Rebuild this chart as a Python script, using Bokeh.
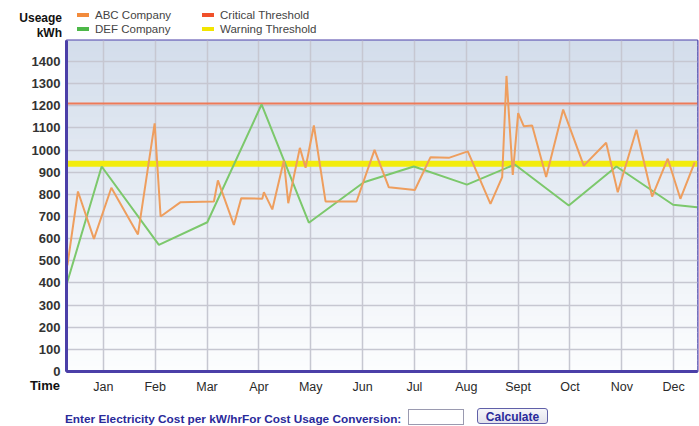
from bokeh.plotting import figure
from bokeh.models import (Range1d, FixedTicker, Span, BoxAnnotation, Div)
from bokeh.layouts import column
from bokeh.embed import file_html
from bokeh.resources import INLINE

# ---------------- data ----------------
months = ["Jan", "Feb", "Mar", "Apr", "May", "Jun", "Jul", "Aug", "Sept", "Oct", "Nov", "Dec"]
month_ticks = [1, 2, 3, 4, 5, 6, 7, 8, 9, 10, 11, 12]
y_ticks = [0, 100, 200, 300, 400, 500, 600, 700, 800, 900, 1000, 1100, 1200, 1300, 1400]

# x in month units (Jan = 1)
abc_x = [0.307, 0.511, 0.819, 1.155, 1.668, 1.990, 2.105, 2.491, 3.133, 3.210, 3.518, 3.661,
         4.066, 4.097, 4.259, 4.482, 4.567, 4.791, 4.901, 5.061, 5.286, 5.884, 6.231, 6.507,
         7.008, 7.311, 7.663, 8.030, 8.467, 8.693, 8.776, 8.897, 9.001, 9.109, 9.271, 9.541,
         9.869, 10.266, 10.698, 10.922, 11.282, 11.585, 11.886, 12.130, 12.406]
abc_y = [479, 813, 599, 830, 619, 1121, 700, 765, 768, 863, 662, 783,
         780, 810, 732, 953, 760, 1010, 920, 1111, 768, 768, 1001, 832,
         820, 968, 965, 994, 757, 878, 1335, 888, 1167, 1108, 1111, 878,
         1183, 930, 1033, 810, 1092, 790, 961, 780, 945]

def_x = [0.307, 0.968, 2.072, 3.006, 4.052, 4.964, 6.025, 6.989, 8.014, 8.936, 9.977, 10.896, 11.989, 12.452]
def_y = [405, 926, 572, 674, 1206, 672, 855, 926, 844, 935, 750, 926, 753, 742]

critical_threshold = 1210
warning_threshold = 938

series_names = ["ABC Company", "DEF Company", "Critical Threshold", "Warning Threshold"]
legend_colors = ["#F28B3C", "#4DB848", "#F0502A", "#F2E500"]

# ---------------- styles ----------------
PURPLE = "#4B3FA8"
FONT = "Liberation Sans"
Y_MAX = 1495
W, H = 699, 426

p = figure(width=W, height=H, output_backend="svg", toolbar_location=None,
           title=None, x_range=Range1d(0.29, 12.46), y_range=Range1d(0, Y_MAX),
           min_border_left=66, min_border_right=2, min_border_top=40, min_border_bottom=55)

p.background_fill_color = "#FBFCFD"
p.border_fill_color = "white"
p.outline_line_color = PURPLE
p.outline_line_width = 2

# gradient background of the frame
N = 60
bot_c = (252, 253, 254)
top_c = (211, 221, 235)
for i in range(N):
    f = (i + 0.5) / N
    c = tuple(int(round(bot_c[k] + (top_c[k] - bot_c[k]) * f)) for k in range(3))
    p.add_layout(BoxAnnotation(bottom=Y_MAX * i / N, top=Y_MAX * (i + 1) / N + 3,
                               fill_color="#%02x%02x%02x" % c, fill_alpha=1.0,
                               line_color=None, level="image"))

# axes
p.xaxis.ticker = FixedTicker(ticks=month_ticks)
p.xaxis.major_label_overrides = {t: m for t, m in zip(month_ticks, months)}
p.yaxis.ticker = FixedTicker(ticks=y_ticks)
for ax in (p.xaxis[0], p.yaxis[0]):
    ax.axis_line_color = PURPLE
    ax.axis_line_width = 3
    ax.major_tick_line_color = None
    ax.minor_tick_line_color = None
    ax.major_tick_out = 0
    ax.major_tick_in = 0
    ax.major_label_text_font = FONT
p.yaxis.major_label_text_font_size = "13px"
p.yaxis.major_label_text_font_style = "bold"
p.yaxis.major_label_text_color = "#333333"
p.yaxis.major_label_standoff = 6
p.xaxis.major_label_text_font_size = "12.5px"
p.xaxis.major_label_text_color = "#2a2a2a"
p.xaxis.major_label_standoff = 8

p.xgrid.ticker = FixedTicker(ticks=month_ticks)
p.ygrid.ticker = FixedTicker(ticks=y_ticks)
for g in (p.xgrid[0], p.ygrid[0]):
    g.grid_line_color = "#C6C7D1"
    g.grid_line_width = 1.5

# thresholds
p.add_layout(Span(location=critical_threshold, dimension="width", line_color="#EE7A58",
                  line_width=2, level="underlay"))
p.add_layout(Span(location=warning_threshold, dimension="width", line_color="#F2EC0C",
                  line_width=6, level="underlay"))

# series
p.line(def_x, def_y, line_color="#7CC86C", line_width=2)
p.line(abc_x, abc_y, line_color="#EE9E5E", line_width=2)

# ---------------- surrounding page text and legend (HTML overlay) ----------------
BLUE = "#2A2A9A"
leg_pos = [(77, 15), (77, 29), (202, 15), (202, 29)]
leg_html = ""
for name, col, (lx, ly) in zip(series_names, legend_colors, leg_pos):
    leg_html += (f'<div style="position:absolute;left:{lx}px;top:{ly-2}px;width:12px;height:4px;background:{col};"></div>'
                 f'<div style="position:absolute;left:{lx+18}px;top:{ly-7}px;font-size:11.5px;line-height:14px;color:#444;white-space:nowrap;">{name}</div>')

html = f"""
<div style="position:relative;width:{W}px;height:{H}px;font-family:'Liberation Sans',Arial,sans-serif;">
  <div style="position:absolute;right:{W-62}px;top:11px;font-size:12px;font-weight:bold;line-height:14px;color:#111;text-align:right;">Useage</div>
  <div style="position:absolute;right:{W-62}px;top:26px;font-size:12px;font-weight:bold;line-height:14px;color:#111;text-align:right;">kWh</div>
  {leg_html}
  <div style="position:absolute;right:{W-60}px;top:378px;font-size:13px;font-weight:bold;line-height:16px;color:#111;text-align:right;">Time</div>
  <div style="position:absolute;left:65px;top:413px;font-size:11.8px;font-weight:bold;line-height:12px;color:{BLUE};white-space:nowrap;">Enter Electricity Cost per kW/hrFor Cost Usage Conversion:</div>
  <div style="position:absolute;left:408px;top:409px;width:56px;height:16px;background:#fff;border:1px solid #9A9AB0;"></div>
  <div style="position:absolute;left:477px;top:408px;width:71px;height:16px;border:1.5px solid #6060A8;border-radius:3px;background:linear-gradient(#F6F6FA,#E2E2EC);color:{BLUE};font-size:12px;font-weight:bold;line-height:16px;text-align:center;">Calculate</div>
</div>
"""
overlay = Div(text=html, width=W, height=H, margin=(-H, 0, 0, 0),
              styles={"pointer-events": "none"})

layout = column(p, overlay, spacing=0)

open("out.html", "w").write(file_html(layout, INLINE))
